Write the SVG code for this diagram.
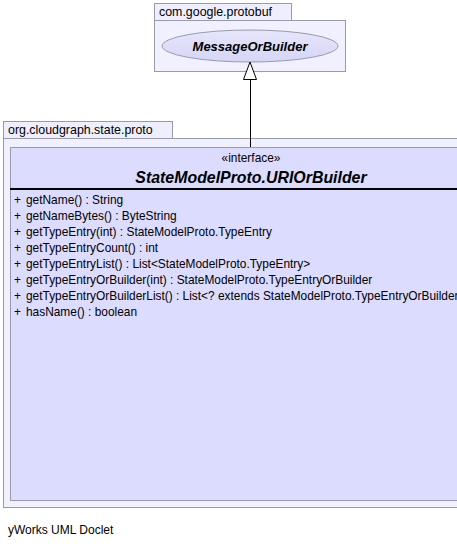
<svg xmlns="http://www.w3.org/2000/svg" width="457" height="546" viewBox="0 0 457 546">
<defs>
<linearGradient id="eg" x1="0" y1="0" x2="0" y2="1">
<stop offset="0" stop-color="#e6e6fb"/>
<stop offset="1" stop-color="#d6d6f6"/>
</linearGradient>
</defs>
<style>
.pkg{fill:#f0f0ff;stroke:#9a9aae;stroke-width:1}
.tab{fill:#eeeefd;stroke:#9a9aae;stroke-width:1}
.cls{fill:#dcdcff;stroke:#9a9aae;stroke-width:1}
text{font-family:"Liberation Sans",Arial,sans-serif;fill:#000}
.pl{font-size:12.4px}
.mem{font-size:11.9px}
.title{font-size:15.9px;font-weight:bold;font-style:italic}
.edge{stroke:#000;stroke-width:1;fill:none}
</style>
<rect x="0" y="0" width="457" height="546" fill="#ffffff"/>
<g id="pkg-protobuf">
<rect class="tab" x="154.5" y="3.5" width="137" height="17"/>
<rect class="pkg" x="154.5" y="20.5" width="191" height="51"/>
<text class="pl" x="159" y="16">com.google.protobuf</text>
</g>
<g id="node-MessageOrBuilder">
<ellipse cx="250" cy="46" rx="88" ry="16" fill="url(#eg)" stroke="#9a9aae"/>
<text x="250" y="51" text-anchor="middle" style="font-size:13px;font-weight:bold;font-style:italic">MessageOrBuilder</text>
</g>
<g id="pkg-state-proto">
<rect class="tab" x="3.5" y="121.5" width="169" height="17"/>
<rect class="pkg" x="3.5" y="138.5" width="470" height="369"/>
<text class="pl" x="8" y="134">org.cloudgraph.state.proto</text>
</g>
<g id="node-URIOrBuilder">
<rect class="cls" x="10.5" y="147.5" width="480" height="353"/>
<text class="mem" x="251" y="162" text-anchor="middle">«interface»</text>
<text class="title" x="251" y="183" text-anchor="middle">StateModelProto.URIOrBuilder</text>
<line x1="10" y1="189" x2="470" y2="189" stroke="#000" stroke-width="2"/>
<g class="mem">
<text x="14" y="204">+</text><text x="26" y="204">getName() : String</text>
<text x="14" y="220">+</text><text x="26" y="220">getNameBytes() : ByteString</text>
<text x="14" y="236">+</text><text x="26" y="236">getTypeEntry(int) : StateModelProto.TypeEntry</text>
<text x="14" y="252">+</text><text x="26" y="252">getTypeEntryCount() : int</text>
<text x="14" y="268">+</text><text x="26" y="268">getTypeEntryList() : List&lt;StateModelProto.TypeEntry&gt;</text>
<text x="14" y="284">+</text><text x="26" y="284">getTypeEntryOrBuilder(int) : StateModelProto.TypeEntryOrBuilder</text>
<text x="14" y="300">+</text><text x="26" y="300">getTypeEntryOrBuilderList() : List&lt;? extends StateModelProto.TypeEntryOrBuilder&gt;</text>
<text x="14" y="316">+</text><text x="26" y="316">hasName() : boolean</text>
</g>
</g>
<g id="connectors">
<line class="edge" x1="250.5" y1="79" x2="250.5" y2="147"/>
<polygon points="250,62 243.5,79.5 256.5,79.5" fill="#ffffff" stroke="#000" stroke-width="1"/>
</g>
<text x="8" y="534" style="font-size:12px">yWorks UML Doclet</text>
</svg>
